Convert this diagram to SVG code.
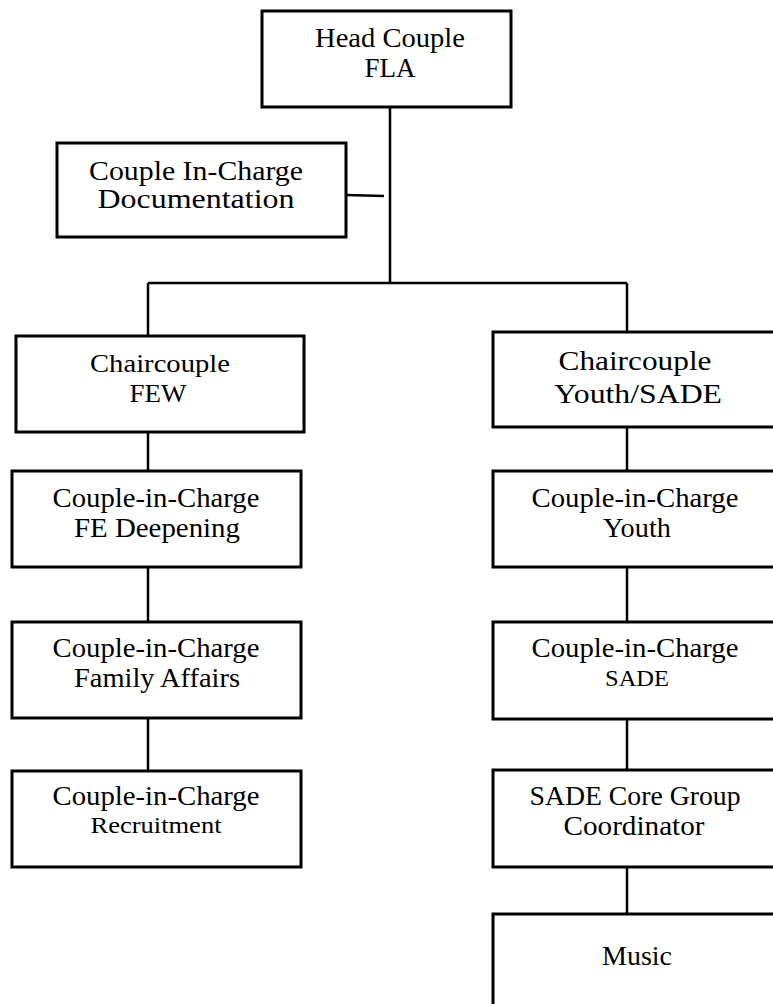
<svg xmlns="http://www.w3.org/2000/svg" width="773" height="1004" viewBox="0 0 773 1004">
<style>
.box{fill:#fff;stroke:#000;stroke-width:3}
.ln{stroke:#000;stroke-width:2.5;fill:none}
text{font-family:"Liberation Serif","Times New Roman",serif;fill:#000;text-anchor:middle}
.t27{font-size:27px}
.t26{font-size:26px}
.t22{font-size:23px}
</style>
<rect width="773" height="1004" fill="#fff"/>
<g id="connectors">
<line class="ln" x1="390" y1="107" x2="390" y2="283"/>
<line class="ln" x1="346" y1="195" x2="384" y2="196"/>
<line class="ln" x1="148" y1="283" x2="627" y2="283"/>
<line class="ln" x1="148" y1="283" x2="148" y2="336"/>
<line class="ln" x1="627" y1="283" x2="627" y2="332"/>
<line class="ln" x1="148" y1="432" x2="148" y2="471"/>
<line class="ln" x1="148" y1="567" x2="148" y2="622"/>
<line class="ln" x1="148" y1="718" x2="148" y2="771"/>
<line class="ln" x1="627" y1="427" x2="627" y2="471"/>
<line class="ln" x1="627" y1="567" x2="627" y2="622"/>
<line class="ln" x1="627" y1="719" x2="627" y2="770"/>
<line class="ln" x1="627" y1="867" x2="627" y2="914"/>
</g>
<g id="head">
<rect class="box" x="262" y="11" width="249" height="96"/>
<text class="t27" x="390" y="47" textLength="150" lengthAdjust="spacingAndGlyphs">Head Couple</text>
<text class="t27" x="390" y="77">FLA</text>
</g>
<g id="documentation">
<rect class="box" x="57" y="143" width="289" height="94"/>
<text class="t27" x="196" y="180" textLength="214" lengthAdjust="spacingAndGlyphs">Couple In-Charge</text>
<text class="t27" x="196" y="208" textLength="197" lengthAdjust="spacingAndGlyphs">Documentation</text>
</g>
<g id="few">
<rect class="box" x="16" y="336" width="288" height="96"/>
<text class="t26" x="160" y="372" textLength="140" lengthAdjust="spacingAndGlyphs">Chaircouple</text>
<text class="t26" x="158" y="402" textLength="57" lengthAdjust="spacingAndGlyphs">FEW</text>
</g>
<g id="youth-sade">
<rect class="box" x="493" y="332" width="290" height="95"/>
<text class="t27" x="635" y="370" textLength="153" lengthAdjust="spacingAndGlyphs">Chaircouple</text>
<text class="t27" x="638" y="403" textLength="168" lengthAdjust="spacingAndGlyphs">Youth/SADE</text>
</g>
<g id="fe-deepening">
<rect class="box" x="12" y="471" width="289" height="96"/>
<text class="t27" x="156" y="507" textLength="207" lengthAdjust="spacingAndGlyphs">Couple-in-Charge</text>
<text class="t27" x="157" y="537" textLength="166" lengthAdjust="spacingAndGlyphs">FE Deepening</text>
</g>
<g id="youth">
<rect class="box" x="493" y="471" width="290" height="96"/>
<text class="t27" x="635" y="507" textLength="207" lengthAdjust="spacingAndGlyphs">Couple-in-Charge</text>
<text class="t27" x="637" y="537" textLength="68" lengthAdjust="spacingAndGlyphs">Youth</text>
</g>
<g id="family-affairs">
<rect class="box" x="12" y="622" width="289" height="96"/>
<text class="t27" x="156" y="657" textLength="207" lengthAdjust="spacingAndGlyphs">Couple-in-Charge</text>
<text class="t27" x="157" y="687" textLength="166" lengthAdjust="spacingAndGlyphs">Family Affairs</text>
</g>
<g id="sade">
<rect class="box" x="493" y="622" width="290" height="97"/>
<text class="t27" x="635" y="657" textLength="207" lengthAdjust="spacingAndGlyphs">Couple-in-Charge</text>
<text class="t22" x="637" y="686" textLength="64" lengthAdjust="spacingAndGlyphs">SADE</text>
</g>
<g id="recruitment">
<rect class="box" x="12" y="771" width="289" height="96"/>
<text class="t27" x="156" y="805" textLength="207" lengthAdjust="spacingAndGlyphs">Couple-in-Charge</text>
<text class="t22" x="156" y="833" textLength="131" lengthAdjust="spacingAndGlyphs">Recruitment</text>
</g>
<g id="coordinator">
<rect class="box" x="493" y="770" width="290" height="97"/>
<text class="t27" x="635" y="805" textLength="211" lengthAdjust="spacingAndGlyphs">SADE Core Group</text>
<text class="t27" x="634" y="835" textLength="141" lengthAdjust="spacingAndGlyphs">Coordinator</text>
</g>
<g id="music">
<rect class="box" x="493" y="914" width="290" height="100"/>
<text class="t27" x="637" y="965" textLength="70" lengthAdjust="spacingAndGlyphs">Music</text>
</g>
</svg>
